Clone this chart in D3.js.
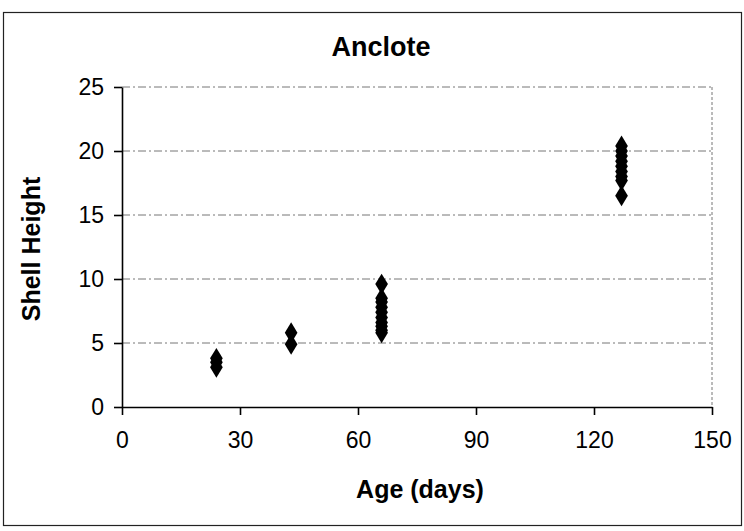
<!DOCTYPE html>
<html><head><meta charset="utf-8">
<script src="https://cdn.jsdelivr.net/npm/d3@7"></script>
<style>body{margin:0;background:#fff}svg{display:block}text{font-family:"Liberation Sans",Arial,sans-serif}</style>
</head><body><svg id="c" width="744" height="531"></svg>
<script>
const ages = [24,24,24, 43,43, 66,66,66,66,66,66,66,66,66,66, 127,127,127,127,127,127,127,127,127];
const heights = [3.1,3.5,3.8, 4.9,5.8, 9.6,8.5,8.2,7.8,7.4,7.0,6.6,6.3,6.0,5.8, 20.4,20.0,19.6,19.2,18.8,18.4,18.0,17.7,16.5];
const xTicks = [0,30,60,90,120,150];
const yTicks = [0,5,10,15,20,25];
const title = "Anclote", xTitle = "Age (days)", yTitle = "Shell Height";

const svg = d3.select("#c");
const L=122, R=712, T=87, B=407;
const x = d3.scaleLinear().domain([0,150]).range([L,R]);
const y = d3.scaleLinear().domain([0,25]).range([B,T]);

svg.append("rect").attr("x",3.5).attr("y",12.5).attr("width",738).attr("height",513)
  .attr("fill","none").attr("stroke","#222").attr("stroke-width",1.2);

// gridlines
svg.append("g").selectAll("line").data(yTicks.filter(d=>d>0)).join("line")
  .attr("x1",L).attr("x2",R).attr("y1",d=>y(d)).attr("y2",d=>y(d))
  .attr("stroke","#777").attr("stroke-width",1).attr("stroke-dasharray","8,3,2,3");
// right border of plot
svg.append("line").attr("x1",R).attr("x2",R).attr("y1",T).attr("y2",B)
  .attr("stroke","#777").attr("stroke-dasharray","3,2");

const xa = svg.append("g").attr("transform",`translate(0,${B})`)
  .call(d3.axisBottom(x).tickValues(xTicks).tickSize(8).tickSizeOuter(0).tickPadding(17));
const ya = svg.append("g").attr("transform",`translate(${L},0)`)
  .call(d3.axisLeft(y).tickValues(yTicks).tickSize(8).tickSizeOuter(0).tickPadding(10));
[xa,ya].forEach(g=>{
  g.selectAll("path,line").attr("stroke","#000").attr("stroke-width",1.6);
  g.selectAll("text").attr("font-size",23).attr("fill","#000").attr("font-family","Liberation Sans, Arial, sans-serif");
});

const sym = d3.symbol().type(d3.symbolDiamond).size(115);
svg.append("g").selectAll("path").data(ages.map((a,i)=>[a,heights[i]])).join("path")
  .attr("d",sym).attr("transform",d=>`translate(${x(d[0])},${y(d[1])}) scale(1.1,1.05)`)
  .attr("fill","#000");

svg.append("text").attr("x",381).attr("y",56).attr("text-anchor","middle")
  .attr("font-size",27).attr("font-weight","bold").text(title);
svg.append("text").attr("x",420).attr("y",498).attr("text-anchor","middle")
  .attr("font-size",25).attr("font-weight","bold").text(xTitle);
svg.append("text").attr("transform","translate(40,249) rotate(-90)").attr("text-anchor","middle")
  .attr("font-size",25).attr("font-weight","bold").text(yTitle);
</script></body></html>
